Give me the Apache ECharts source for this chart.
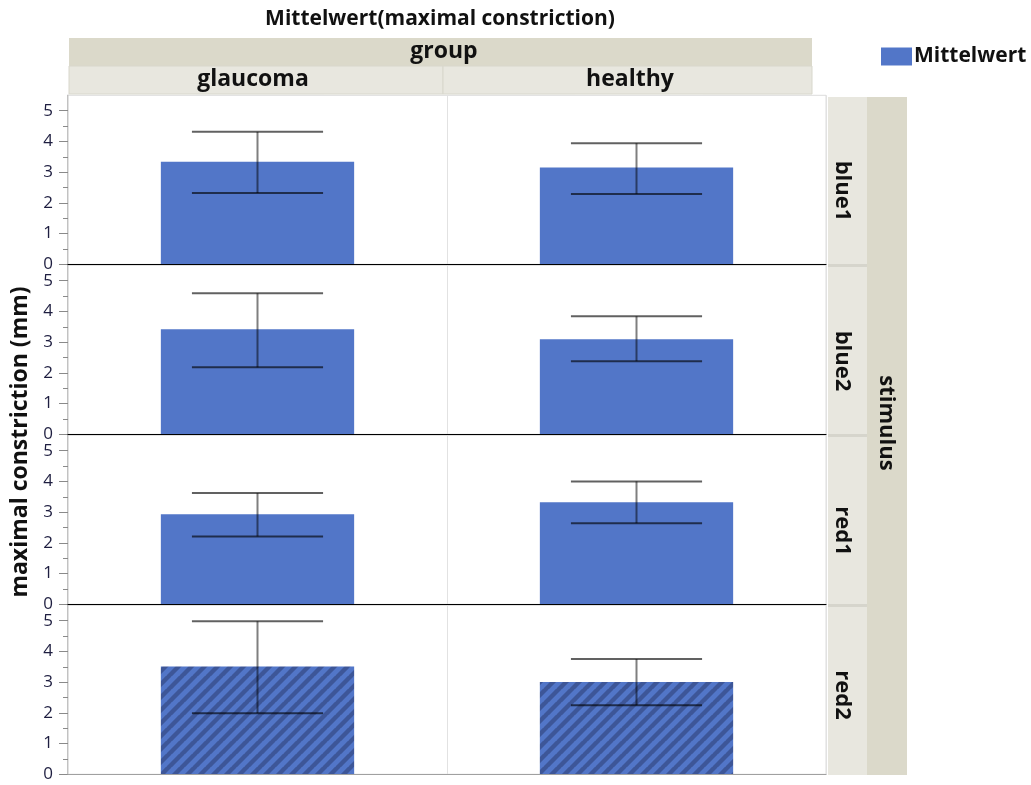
<!DOCTYPE html>
<html>
<head>
<meta charset="utf-8">
<script src="https://cdn.jsdelivr.net/npm/echarts@6/dist/echarts.min.js"></script>
<style>html,body{margin:0;padding:0;background:#fff}#c{width:1031px;height:785px}</style>
</head>
<body>
<div id="c"></div>
<script>
// ---- data ----
const categories = ['glaucoma', 'healthy'];
const stimuli = ['blue1', 'blue2', 'red1', 'red2'];
const meanGlaucoma = [3.34, 3.42, 2.93, 3.51];
const meanHealthy  = [3.15, 3.09, 3.32, 3.00];
const lowGlaucoma  = [2.32, 2.18, 2.21, 1.99];
const highGlaucoma = [4.31, 4.59, 3.62, 4.98];
const lowHealthy   = [2.29, 2.38, 2.64, 2.25];
const highHealthy  = [3.94, 3.84, 4.00, 3.75];
const majorTicks = [0, 1, 2, 3, 4, 5];
const minorTicks = [0.5, 1.5, 2.5, 3.5, 4.5];

const FONT = 'Open Sans';
const BAR = '#5276c8';

// diagonal hatch pattern ("/") for the hatched row
function makeHatch() {
  const s = 13;
  const cv = document.createElement('canvas');
  cv.width = s; cv.height = s;
  const ctx = cv.getContext('2d');
  ctx.fillStyle = BAR; ctx.fillRect(0, 0, s, s);
  ctx.strokeStyle = '#3d5698'; ctx.lineWidth = 4.4;
  [-s, 0, s].forEach(function (o) {
    ctx.beginPath(); ctx.moveTo(o - 1, s + 1); ctx.lineTo(o + s + 1, -1); ctx.stroke();
  });
  return cv;
}
const hatch = {image: makeHatch(), repeat: 'repeat'};

const chart = echarts.init(document.getElementById('c'), null, {renderer: 'canvas'});

const top0 = 95.3, rowH = 170, plotH = 169, left = 68, right = 205;
const grids = [], xAxes = [], yAxes = [], series = [];
for (let r = 0; r < 4; r++) {
  grids.push({left: left, right: right, top: top0 + r * rowH, height: plotH,
    show: true, borderColor: '#dcdcdc', borderWidth: 1, backgroundColor: '#fff'});
  xAxes.push({type: 'category', gridIndex: r, data: categories,
    axisLine: {show: true, lineStyle: {color: r < 3 ? '#000' : '#a0a0a0', width: 1.2}},
    axisTick: {show: false}, axisLabel: {show: false},
    splitLine: {show: true, lineStyle: {color: '#e2e2e2', width: 1}}, z: 5});
  yAxes.push({type: 'value', gridIndex: r, position: 'left', min: 0, max: 5.5, interval: 1,
    axisLine: {show: true, lineStyle: {color: '#b4b4b4', width: 1.5}},
    axisTick: {show: true, length: 9, customValues: majorTicks, lineStyle: {color: '#8a8a8a'}},
    axisLabel: {customValues: majorTicks, fontSize: 17, color: '#1e1e40', margin: 15, fontFamily: FONT},
    splitLine: {show: false}});
  yAxes.push({type: 'value', gridIndex: r, position: 'left', offset: 0, min: 0, max: 5.5, interval: 1,
    axisLine: {show: false},
    axisTick: {show: true, length: 5, customValues: minorTicks, lineStyle: {color: '#8a8a8a'}},
    axisLabel: {show: false}, splitLine: {show: false}});
  series.push({name: 'Mittelwert', type: 'bar', xAxisIndex: r, yAxisIndex: 2 * r,
    barWidth: '51%', data: [meanGlaucoma[r], meanHealthy[r]],
    itemStyle: {color: r === 3 ? hatch : BAR},
    emphasis: {disabled: true}, animation: false});
  series.push({type: 'custom', xAxisIndex: r, yAxisIndex: 2 * r, z: 10, animation: false,
    encode: {x: 0, y: [1, 2]},
    data: [[0, lowGlaucoma[r], highGlaucoma[r]], [1, lowHealthy[r], highHealthy[r]]],
    renderItem: function (params, api) {
      const x = api.value(0);
      const lo = api.coord([x, api.value(1)]);
      const hi = api.coord([x, api.value(2)]);
      const half = api.size([1, 0])[0] * 0.173;
      return {type: 'group', children: [
        {type: 'line', shape: {x1: lo[0], y1: lo[1], x2: hi[0], y2: hi[1]},
          style: {stroke: 'rgba(0,0,0,0.5)', lineWidth: 2}},
        {type: 'line', shape: {x1: hi[0] - half, y1: hi[1], x2: hi[0] + half, y2: hi[1]},
          style: {stroke: 'rgba(0,0,0,0.62)', lineWidth: 2}},
        {type: 'line', shape: {x1: lo[0] - half, y1: lo[1], x2: lo[0] + half, y2: lo[1]},
          style: {stroke: 'rgba(0,0,0,0.62)', lineWidth: 2}}
      ]};
    }});
}

const LIGHT = '#e8e7df', DARK = '#dbd9ca';
const HF = 'bold 23px "' + FONT + '"';
const graphic = [
  {type: 'text', x: 440, y: 19, style: {text: 'Mittelwert(maximal constriction)',
    font: 'bold 21px "' + FONT + '"', fill: '#111', align: 'center', verticalAlign: 'middle'}},
  {type: 'rect', shape: {x: 69, y: 38, width: 743, height: 28}, style: {fill: DARK}},
  {type: 'rect', shape: {x: 69, y: 66, width: 374, height: 28}, style: {fill: LIGHT, stroke: '#d8d7cc', lineWidth: 1}},
  {type: 'rect', shape: {x: 443, y: 66, width: 369, height: 28}, style: {fill: LIGHT, stroke: '#d8d7cc', lineWidth: 1}},
  {type: 'text', x: 444, y: 51, style: {text: 'group', font: HF, fill: '#111', align: 'center', verticalAlign: 'middle'}},
  {type: 'text', x: 253, y: 79, style: {text: categories[0], font: HF, fill: '#111', align: 'center', verticalAlign: 'middle'}},
  {type: 'text', x: 630, y: 79, style: {text: categories[1], font: HF, fill: '#111', align: 'center', verticalAlign: 'middle'}},
  {type: 'rect', shape: {x: 867, y: 97, width: 40, height: 678}, style: {fill: DARK}},
  {type: 'text', x: 886, y: 423, rotation: -Math.PI / 2, style: {text: 'stimulus', font: 'bold 22px "' + FONT + '"', fill: '#111', align: 'center', verticalAlign: 'middle'}},
  {type: 'text', x: 20, y: 442, rotation: Math.PI / 2, style: {text: 'maximal constriction (mm)', font: HF, fill: '#111', align: 'center', verticalAlign: 'middle'}}
];
for (let r = 0; r < 4; r++) {
  const y0 = 97 + r * rowH;
  graphic.push({type: 'rect', shape: {x: 828, y: y0, width: 39, height: r < 3 ? 167 : 168}, style: {fill: LIGHT}});
  if (r < 3) {
    graphic.push({type: 'rect', shape: {x: 828, y: y0 + 167, width: 39, height: 3}, style: {fill: '#d6d5cc'}});
  }
  graphic.push({type: 'text', x: 842, y: y0 + 94 - (r === 3 ? 6 : 0), rotation: -Math.PI / 2,
    style: {text: stimuli[r], font: 'bold 22px "' + FONT + '"', fill: '#111', align: 'center', verticalAlign: 'middle'}});
}

chart.setOption({
  animation: false,
  textStyle: {fontFamily: FONT},
  legend: {show: true, left: 876, top: 41, itemWidth: 31, itemHeight: 18, itemGap: 4,
    data: [{name: 'Mittelwert', icon: 'rect', itemStyle: {color: BAR}}],
    textStyle: {fontSize: 21, fontWeight: 'bold', color: '#111', fontFamily: FONT, padding: [0, 0, 0, -3]},
    selectedMode: false},
  grid: grids, xAxis: xAxes, yAxis: yAxes, series: series, graphic: graphic
});
</script>
</body>
</html>
